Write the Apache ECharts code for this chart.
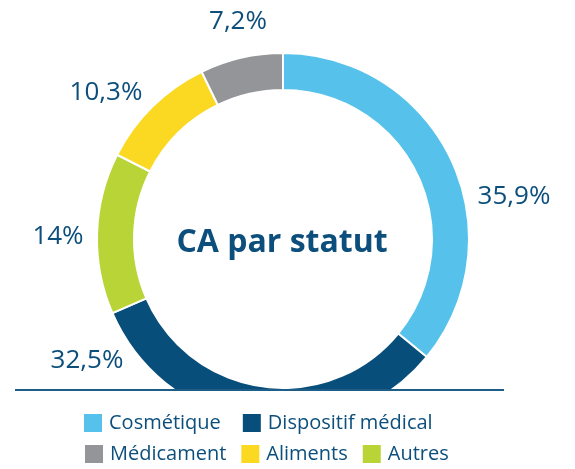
<!DOCTYPE html>
<html>
<head>
<meta charset="utf-8">
<script src="https://cdn.jsdelivr.net/npm/echarts@6/dist/echarts.min.js"></script>
<style>
  html, body { margin: 0; padding: 0; background: #fff; }
  #chart { width: 575px; height: 469px; }
</style>
</head>
<body>
<div id="chart"></div>
<script>
// données
var categories = ['Cosmétique', 'Dispositif médical', 'Autres', 'Aliments', 'Médicament'];
var values = [35.9, 32.5, 14, 10.3, 7.2];
var colors = ['#56c2eb', '#074e7a', '#b8d437', '#fbd822', '#939598'];

// où poser les étiquettes (centre du texte)
var labelPos = [[514, 197], [87, 361], [58, 237], [106, 93], [238, 22]];

var textColor = '#0c4f7c';

var chart = echarts.init(document.getElementById('chart'));
chart.setOption({
  animation: false,
  legend: [
    {
      data: ['Cosmétique', 'Dispositif médical'],
      left: 82, top: 412, z: 200, padding: 0,
      icon: 'rect', itemWidth: 20, itemHeight: 20, itemGap: 20,
      textStyle: { fontFamily: 'Open Sans', fontSize: 20, color: textColor, padding: [0, 0, 0, 1] },
      selectedMode: false
    },
    {
      data: ['Médicament', 'Aliments', 'Autres'],
      left: 83, top: 443, z: 200, padding: 0,
      icon: 'rect', itemWidth: 20, itemHeight: 20, itemGap: 13,
      textStyle: { fontFamily: 'Open Sans', fontSize: 20, color: textColor, padding: [0, 0, 0, 1] },
      selectedMode: false
    }
  ],
  graphic: [
    { type: 'rect', z: 100, shape: { x: 0, y: 391, width: 575, height: 78 }, style: { fill: '#fff' } },
    { type: 'line', z: 101, shape: { x1: 15, y1: 390, x2: 504, y2: 390 }, style: { stroke: '#1d5d88', lineWidth: 2 } },
    {
      type: 'text', z: 101, x: 282, y: 243,
      style: {
        text: 'CA par statut', fill: textColor, font: 'bold 32px "Open Sans"',
        align: 'center', verticalAlign: 'middle'
      }
    }
  ],
  series: [{
    type: 'pie',
    center: [283, 239],
    radius: [149, 186],
    startAngle: 90,
    clockwise: true,
    emphasis: { disabled: true },
    itemStyle: { borderColor: '#fff', borderWidth: 2 },
    label: {
      show: true,
      position: 'inside',
      fontFamily: 'Open Sans',
      fontSize: 26,
      color: textColor,
      formatter: function (p) { return String(p.value).replace('.', ',') + '%'; }
    },
    labelLine: { show: false },
    labelLayout: function (p) {
      var pos = labelPos[p.dataIndex];
      return { x: pos[0], y: pos[1], align: 'center', verticalAlign: 'middle' };
    },
    data: categories.map(function (c, i) {
      return { name: c, value: values[i], itemStyle: { color: colors[i] } };
    })
  }]
});
</script>
</body>
</html>
